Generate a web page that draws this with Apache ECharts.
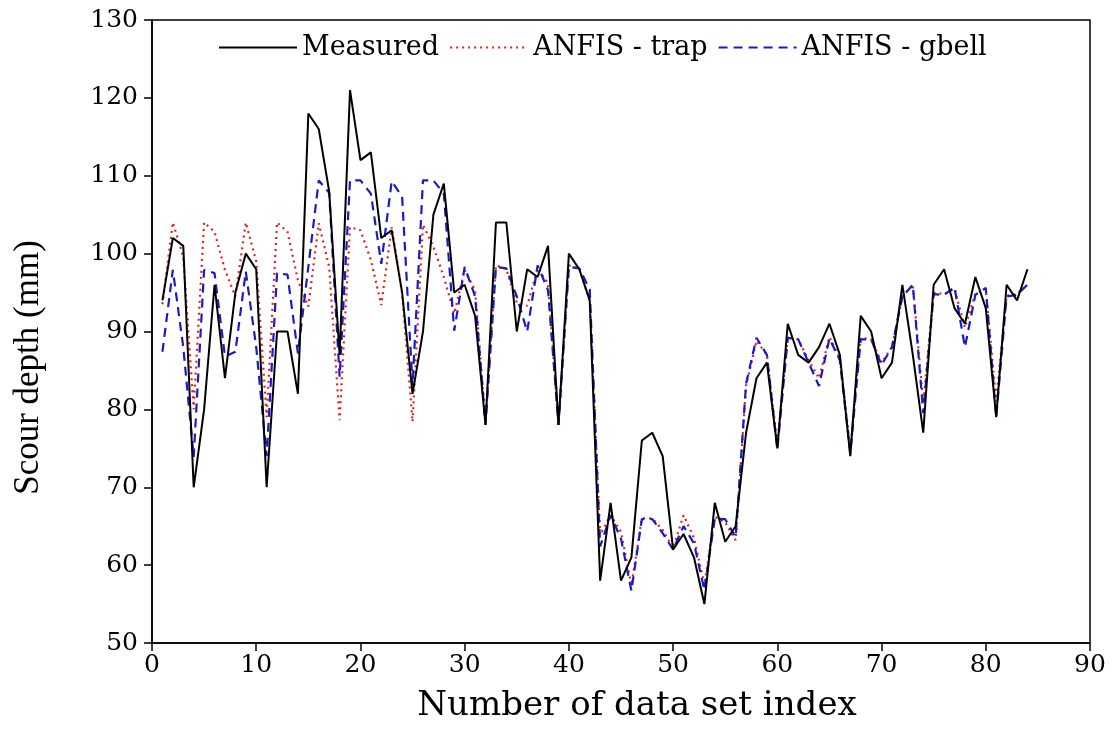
<!DOCTYPE html>
<html>
<head>
<meta charset="utf-8">
<script src="https://cdn.jsdelivr.net/npm/echarts@6/dist/echarts.min.js"></script>
<style>
html,body{margin:0;padding:0;background:#fff;}
#chart{width:1113px;height:746px;}
</style>
</head>
<body>
<div id="chart"></div>
<script>
// Data set index 1..84
const measured = [94,102,101,70,80,96,84,95,100,98,70,90,90,82,118,116,108,87,121,112,113,102,103,95,82,90,105,109,95,96,92,78,104,104,90,98,97,101,78,100,98,94,58,68,58,61,76,77,74,62,64,61,55,68,63,65,77,84,86,75,91,87,86,88,91,87,74,92,90,84,86,96,87,77,96,98,93,91,97,93,79,96,94,98];
const anfisTrap = [93.5,104,99.6,80,104,102.8,97.9,94.5,104,99,79,104,102.8,96.6,93.2,103.9,98.3,78.6,103.4,103,99.2,93.4,103.4,94.9,78.4,103.7,100.9,97,92.3,97.9,95.3,78.5,98.5,98,93.7,93.3,98.1,96.2,78,98.5,98,94,63.9,66.4,64.3,57.4,66,66,64.5,62.2,66.4,63.5,57.5,66.2,65.5,63.2,83,88.8,87,75.5,89.2,89,86.3,84,89.3,86.5,75,89.2,89,86,88,94.5,96,80.8,95,94.8,95.5,90.5,94.8,95.5,81,94.6,94.8,96];
const anfisGbell = [87.4,97.9,88,73.9,97.9,97.5,86.8,87.4,97.7,88,74,97.5,97.3,87.2,98.3,109.4,107.8,84.2,109.4,109.4,107.7,98.7,109.3,107.3,83.1,109.4,109.4,107.7,90.1,98.3,94.5,78,98.3,98.1,94.5,90,98.5,95.3,78,98.3,98.1,95.4,62.4,66.4,63.4,56.7,65.9,65.9,64.1,62,65,62.8,56.8,66,65.9,63.6,83.3,89.2,87,74.8,89.2,89,86,83,89.1,86.3,74.3,89,89,85.7,88,94.5,96,79.5,94.8,94.7,95.7,88,94.7,95.6,79,94.5,94.7,96];
const seriesNames = ['Measured','ANFIS - trap','ANFIS - gbell'];
const xTitle = 'Number of data set index';
const yTitle = 'Scour depth (mm)';

const toPairs = arr => arr.map((v, i) => [i + 1, v]);

const chart = echarts.init(document.getElementById('chart'), null, {renderer: 'canvas'});
const serif = '"DejaVu Serif", serif';
chart.setOption({
  animation: false,
  backgroundColor: '#fff',
  grid: {left: 152, right: 23, top: 20, bottom: 103, show: true, borderColor: '#000', borderWidth: 1.5, backgroundColor: 'transparent'},
  legend: {
    show: true,
    left: 213, top: 29, itemWidth: 78, itemHeight: 14, itemGap: 10,
    itemStyle: {opacity: 0},
    textStyle: {fontFamily: serif, fontSize: 27, color: '#000'},
    data: seriesNames
  },
  xAxis: {
    type: 'value', min: 0, max: 90, interval: 10,
    name: xTitle, nameLocation: 'middle', nameGap: 46,
    nameTextStyle: {fontFamily: serif, fontSize: 34, color: '#000', padding: [0, 0, 0, 32]},
    axisLine: {lineStyle: {color: '#000', width: 1.5}},
    axisTick: {inside: false, length: 8, lineStyle: {color: '#000', width: 1.5}},
    axisLabel: {fontFamily: serif, fontSize: 25, color: '#000', margin: 10},
    splitLine: {show: false}
  },
  yAxis: {
    type: 'value', min: 50, max: 130, interval: 10,
    name: yTitle, nameLocation: 'middle', nameGap: 106, nameRotate: 90,
    nameTextStyle: {fontFamily: '"Liberation Serif", serif', fontSize: 35, color: '#000', padding: [0, 72, 0, 0]},
    axisLine: {lineStyle: {color: '#000', width: 1.5}},
    axisTick: {inside: false, length: 8, lineStyle: {color: '#000', width: 1.5}},
    axisLabel: {fontFamily: serif, fontSize: 25, color: '#000', margin: 14},
    splitLine: {show: false}
  },
  series: [
    {name: seriesNames[0], type: 'line', data: toPairs(measured), symbol: 'none',
     lineStyle: {color: '#000', width: 2, type: 'solid'}, itemStyle: {color: '#000'}, z: 3},
    {name: seriesNames[1], type: 'line', data: toPairs(anfisTrap), symbol: 'none',
     lineStyle: {color: '#e0201e', width: 2.2, type: [2, 4]}, itemStyle: {color: '#e0201e'}, z: 2},
    {name: seriesNames[2], type: 'line', data: toPairs(anfisGbell), symbol: 'none',
     lineStyle: {color: '#1a1acc', width: 2.2, type: [9, 6]}, itemStyle: {color: '#1a1acc'}, z: 2}
  ]
});
</script>
</body>
</html>
